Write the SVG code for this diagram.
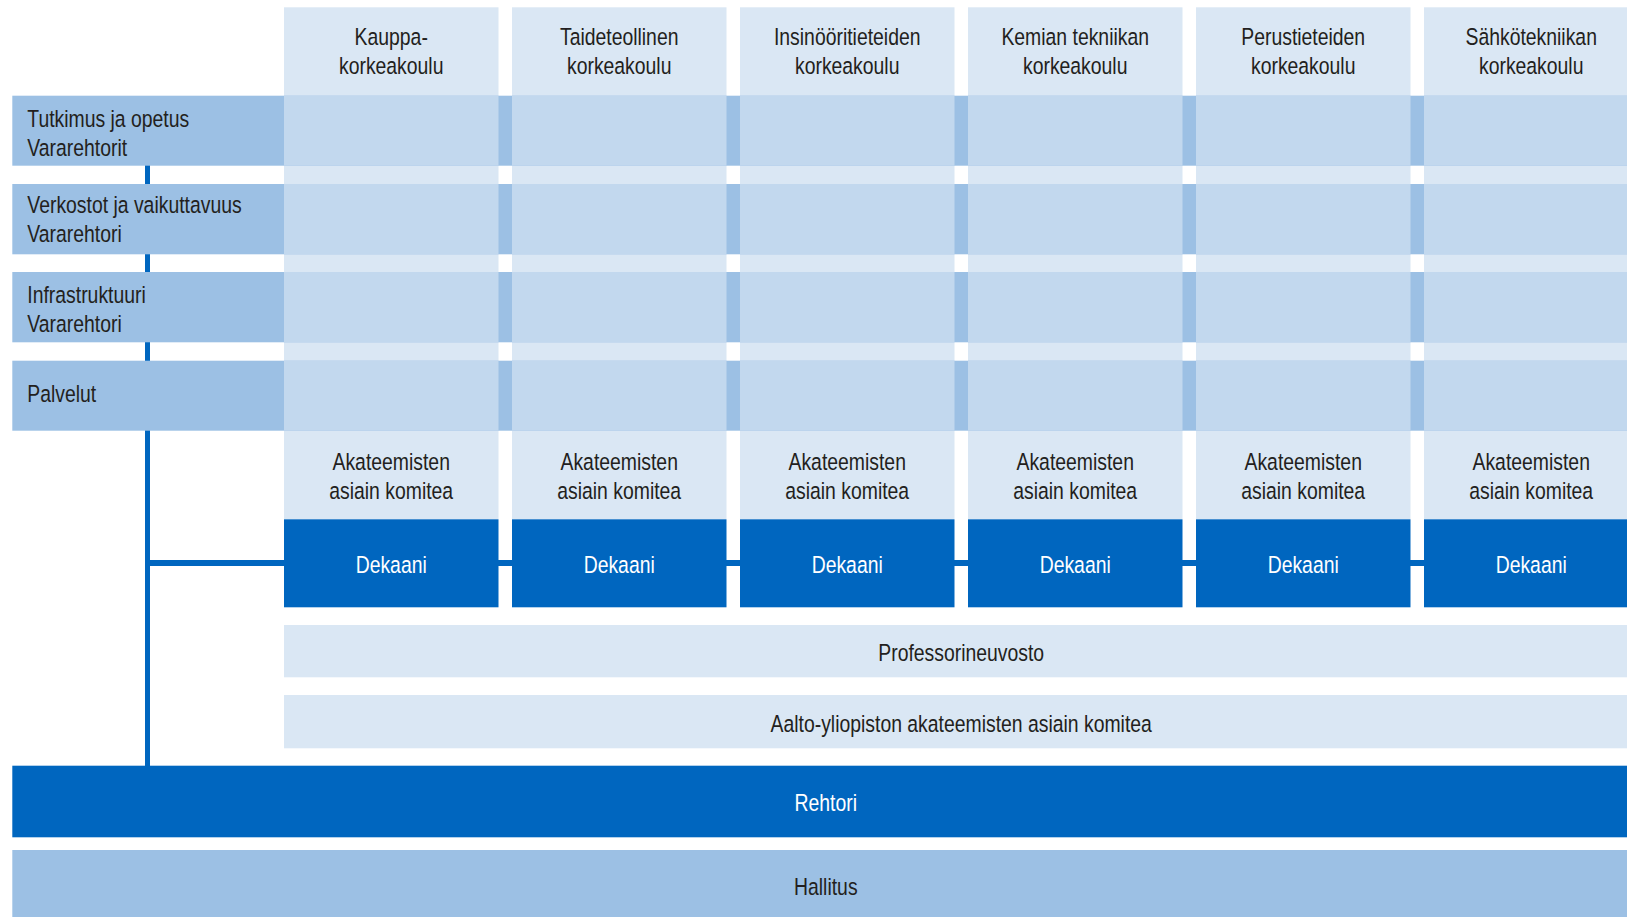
<svg xmlns="http://www.w3.org/2000/svg" width="1627" height="917" viewBox="0 0 1627 917">
<style>
.light{fill:#dae7f4}
.mid{fill:#9cc0e4}
.cell{fill:#c2d8ee}
.dark{fill:#0066bf}
.t{font-family:"Liberation Sans",Arial,sans-serif;font-size:23.5px;fill:#231f20}
.tw{fill:#ffffff}
.c{text-anchor:middle}
.conn{stroke:#0066bf;fill:none}
</style>
<rect width="1627" height="917" fill="#ffffff"/>
<g id="column-backgrounds">
<rect class="light" x="284" y="7.3" width="214.5" height="512"/>
<rect class="light" x="512" y="7.3" width="214.5" height="512"/>
<rect class="light" x="740" y="7.3" width="214.5" height="512"/>
<rect class="light" x="968" y="7.3" width="214.5" height="512"/>
<rect class="light" x="1196" y="7.3" width="214.5" height="512"/>
<rect class="light" x="1424" y="7.3" width="214.5" height="512"/>
</g>
<g id="connectors">
<line class="conn" x1="147.5" y1="165" x2="147.5" y2="766" stroke-width="5"/>
<line class="conn" x1="147.5" y1="563" x2="1639" y2="563" stroke-width="6"/>
</g>
<g id="row-tutkimus">
<rect class="mid" x="12.3" y="95.7" width="1627" height="70"/>
<rect class="cell" x="284" y="95.7" width="214.5" height="70"/>
<rect class="cell" x="512" y="95.7" width="214.5" height="70"/>
<rect class="cell" x="740" y="95.7" width="214.5" height="70"/>
<rect class="cell" x="968" y="95.7" width="214.5" height="70"/>
<rect class="cell" x="1196" y="95.7" width="214.5" height="70"/>
<rect class="cell" x="1424" y="95.7" width="214.5" height="70"/>
<text class="t" transform="translate(27.3 126.7) scale(0.825 1)">Tutkimus ja opetus<tspan x="0" y="29.3">Vararehtorit</tspan></text>
</g>
<g id="row-verkostot">
<rect class="mid" x="12.3" y="184" width="1627" height="70.3"/>
<rect class="cell" x="284" y="184" width="214.5" height="70.3"/>
<rect class="cell" x="512" y="184" width="214.5" height="70.3"/>
<rect class="cell" x="740" y="184" width="214.5" height="70.3"/>
<rect class="cell" x="968" y="184" width="214.5" height="70.3"/>
<rect class="cell" x="1196" y="184" width="214.5" height="70.3"/>
<rect class="cell" x="1424" y="184" width="214.5" height="70.3"/>
<text class="t" transform="translate(27.3 213.3) scale(0.825 1)">Verkostot ja vaikuttavuus<tspan x="0" y="29">Vararehtori</tspan></text>
</g>
<g id="row-infrastruktuuri">
<rect class="mid" x="12.3" y="272" width="1627" height="70.3"/>
<rect class="cell" x="284" y="272" width="214.5" height="70.3"/>
<rect class="cell" x="512" y="272" width="214.5" height="70.3"/>
<rect class="cell" x="740" y="272" width="214.5" height="70.3"/>
<rect class="cell" x="968" y="272" width="214.5" height="70.3"/>
<rect class="cell" x="1196" y="272" width="214.5" height="70.3"/>
<rect class="cell" x="1424" y="272" width="214.5" height="70.3"/>
<text class="t" transform="translate(27.3 302.7) scale(0.825 1)">Infrastruktuuri<tspan x="0" y="29">Vararehtori</tspan></text>
</g>
<g id="row-palvelut">
<rect class="mid" x="12.3" y="360.7" width="1627" height="70"/>
<rect class="cell" x="284" y="360.7" width="214.5" height="70"/>
<rect class="cell" x="512" y="360.7" width="214.5" height="70"/>
<rect class="cell" x="740" y="360.7" width="214.5" height="70"/>
<rect class="cell" x="968" y="360.7" width="214.5" height="70"/>
<rect class="cell" x="1196" y="360.7" width="214.5" height="70"/>
<rect class="cell" x="1424" y="360.7" width="214.5" height="70"/>
<text class="t" transform="translate(27.3 401.7) scale(0.825 1)">Palvelut</text>
</g>
<g id="header-kauppa"><text class="t c" transform="translate(391.2 45) scale(0.825 1)">Kauppa-<tspan x="0" y="29">korkeakoulu</tspan></text></g>
<g id="header-taide"><text class="t c" transform="translate(619.2 45) scale(0.825 1)">Taideteollinen<tspan x="0" y="29">korkeakoulu</tspan></text></g>
<g id="header-insinoori"><text class="t c" transform="translate(847.2 45) scale(0.825 1)">Insinööritieteiden<tspan x="0" y="29">korkeakoulu</tspan></text></g>
<g id="header-kemia"><text class="t c" transform="translate(1075.2 45) scale(0.825 1)">Kemian tekniikan<tspan x="0" y="29">korkeakoulu</tspan></text></g>
<g id="header-perus"><text class="t c" transform="translate(1303.2 45) scale(0.825 1)">Perustieteiden<tspan x="0" y="29">korkeakoulu</tspan></text></g>
<g id="header-sahko"><text class="t c" transform="translate(1531.2 45) scale(0.825 1)">Sähkötekniikan<tspan x="0" y="29">korkeakoulu</tspan></text></g>
<g id="aak-1"><text class="t c" transform="translate(391.2 470) scale(0.825 1)">Akateemisten<tspan x="0" y="29.3">asiain komitea</tspan></text></g>
<g id="aak-2"><text class="t c" transform="translate(619.2 470) scale(0.825 1)">Akateemisten<tspan x="0" y="29.3">asiain komitea</tspan></text></g>
<g id="aak-3"><text class="t c" transform="translate(847.2 470) scale(0.825 1)">Akateemisten<tspan x="0" y="29.3">asiain komitea</tspan></text></g>
<g id="aak-4"><text class="t c" transform="translate(1075.2 470) scale(0.825 1)">Akateemisten<tspan x="0" y="29.3">asiain komitea</tspan></text></g>
<g id="aak-5"><text class="t c" transform="translate(1303.2 470) scale(0.825 1)">Akateemisten<tspan x="0" y="29.3">asiain komitea</tspan></text></g>
<g id="aak-6"><text class="t c" transform="translate(1531.2 470) scale(0.825 1)">Akateemisten<tspan x="0" y="29.3">asiain komitea</tspan></text></g>
<g id="dekaani-1"><rect class="dark" x="284" y="519.3" width="214.5" height="88"/><text class="t tw c" transform="translate(391.2 573.3) scale(0.825 1)">Dekaani</text></g>
<g id="dekaani-2"><rect class="dark" x="512" y="519.3" width="214.5" height="88"/><text class="t tw c" transform="translate(619.2 573.3) scale(0.825 1)">Dekaani</text></g>
<g id="dekaani-3"><rect class="dark" x="740" y="519.3" width="214.5" height="88"/><text class="t tw c" transform="translate(847.2 573.3) scale(0.825 1)">Dekaani</text></g>
<g id="dekaani-4"><rect class="dark" x="968" y="519.3" width="214.5" height="88"/><text class="t tw c" transform="translate(1075.2 573.3) scale(0.825 1)">Dekaani</text></g>
<g id="dekaani-5"><rect class="dark" x="1196" y="519.3" width="214.5" height="88"/><text class="t tw c" transform="translate(1303.2 573.3) scale(0.825 1)">Dekaani</text></g>
<g id="dekaani-6"><rect class="dark" x="1424" y="519.3" width="214.5" height="88"/><text class="t tw c" transform="translate(1531.2 573.3) scale(0.825 1)">Dekaani</text></g>
<g id="professorineuvosto"><rect class="light" x="284" y="625" width="1355" height="52.3"/><text class="t c" transform="translate(961.2 661) scale(0.825 1)">Professorineuvosto</text></g>
<g id="aalto-komitea"><rect class="light" x="284" y="695" width="1355" height="53.3"/><text class="t c" transform="translate(961.2 731.7) scale(0.825 1)">Aalto-yliopiston akateemisten asiain komitea</text></g>
<g id="rehtori"><rect class="dark" x="12.3" y="765.7" width="1627" height="71.6"/><text class="t tw c" transform="translate(825.8 810.7) scale(0.825 1)">Rehtori</text></g>
<g id="hallitus"><rect class="mid" x="12.3" y="850" width="1627" height="67"/><text class="t c" transform="translate(825.8 895) scale(0.825 1)">Hallitus</text></g>
</svg>
